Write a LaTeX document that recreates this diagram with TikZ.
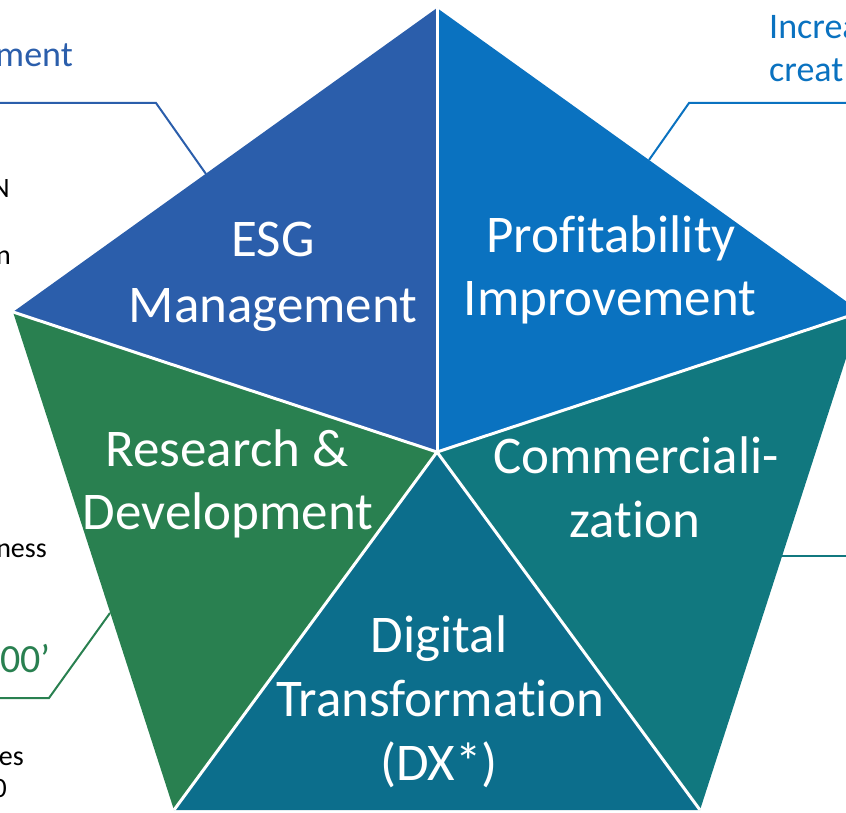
\documentclass[tikz,border=0pt]{standalone}
\usepackage{fontspec}
\setmainfont[Ligatures=NoCommon]{Carlito}
\definecolor{esgc}{HTML}{2B5EAB}
\definecolor{proc}{HTML}{0A72C0}
\definecolor{rdc}{HTML}{298050}
\definecolor{dxc}{HTML}{0C6E8C}
\definecolor{comc}{HTML}{11787F}
\begin{document}
\begin{tikzpicture}[x=1pt,y=-1pt,
  lbl/.style={text=white,font=\fontsize{53}{63}\selectfont,anchor=base,inner sep=0pt},
  side/.style={font=\fontsize{36}{44}\selectfont,anchor=base east,inner sep=0pt},
  blk/.style={font=\fontsize{28}{34}\selectfont,anchor=base east,inner sep=0pt,text=black},
  gap/.style={draw=white,line width=3pt},
  conn/.style={line width=2pt}]
\useasboundingbox (0,0) rectangle (846,813);
\coordinate (C) at (437,452);
\coordinate (T) at (437,8);
\coordinate (L) at (13,312);
\coordinate (R) at (861,312);
\coordinate (BL) at (174,810);
\coordinate (BR) at (700,810);
% sectors
\fill[esgc] (C) -- (L) -- (T) -- cycle;
\fill[proc] (C) -- (T) -- (R) -- cycle;
\fill[comc] (C) -- (R) -- (BR) -- cycle;
\fill[dxc] (C) -- (BR) -- (BL) -- cycle;
\fill[rdc] (C) -- (BL) -- (L) -- cycle;
\draw[gap] (C) -- (T);
\draw[gap] (C) -- (L);
\draw[gap] (C) -- (R);
\draw[gap] (C) -- (BL);
\draw[gap] (C) -- (BR);
% labels
\node[lbl] (esg1) at (273,257) {ESG};
\node[lbl] (esg2) at (273,322) {Management};
\node[lbl] (pro1) at (611,252) {Profitability};
\node[lbl] (pro2) at (610,315) {Improvement};
\node[lbl] (rd1) at (227,466) {Research \&};
\node[lbl] (rd2) at (228,529) {Development};
\node[lbl] (com1) at (636,473) {Commerciali-};
\node[lbl] (com2) at (635,537) {zation};
\node[lbl] (dx1) at (439,652) {Digital};
\node[lbl] (dx2) at (440,716) {Transformation};
\node[lbl] (dx3) at (439,780) {(DX*)};
% connectors
\coordinate (e0) at (0,103);
\coordinate (e1) at (156,103);
\coordinate (e2) at (206,174);
\draw[conn,draw=esgc] (e0) -- (e1) -- (e2);
\coordinate (p0) at (846,103);
\coordinate (p1) at (689,103);
\coordinate (p2) at (649,160);
\draw[conn,draw=proc] (p0) -- (p1) -- (p2);
\coordinate (g0) at (0,698);
\coordinate (g1) at (49,698);
\coordinate (g2) at (110,613);
\draw[conn,draw=rdc] (g0) -- (g1) -- (g2);
\coordinate (c0) at (782,556);
\coordinate (c1) at (846,556);
\draw[conn,draw=comc] (c0) -- (c1);
% side texts (cut by the page edge)
\node[side,text=esgc] (ment) at (73,67) {ment};
\node[side,text=proc,anchor=base west] (inc1) at (769,39) {Increa};
\node[side,text=proc,anchor=base west] (inc2) at (769,82) {creat};
\node[side,text=rdc,font=\fontsize{40}{48}\selectfont] (zz) at (51,672) {00’};
\node[blk] (t1) at (10,198) {N};
\node[blk] (t2) at (11,264) {n};
\node[blk] (t3) at (47,557) {ness};
\node[blk] (t4) at (24,765) {es};
\node[blk] (t5) at (7,797) {0};
\end{tikzpicture}
\end{document}
